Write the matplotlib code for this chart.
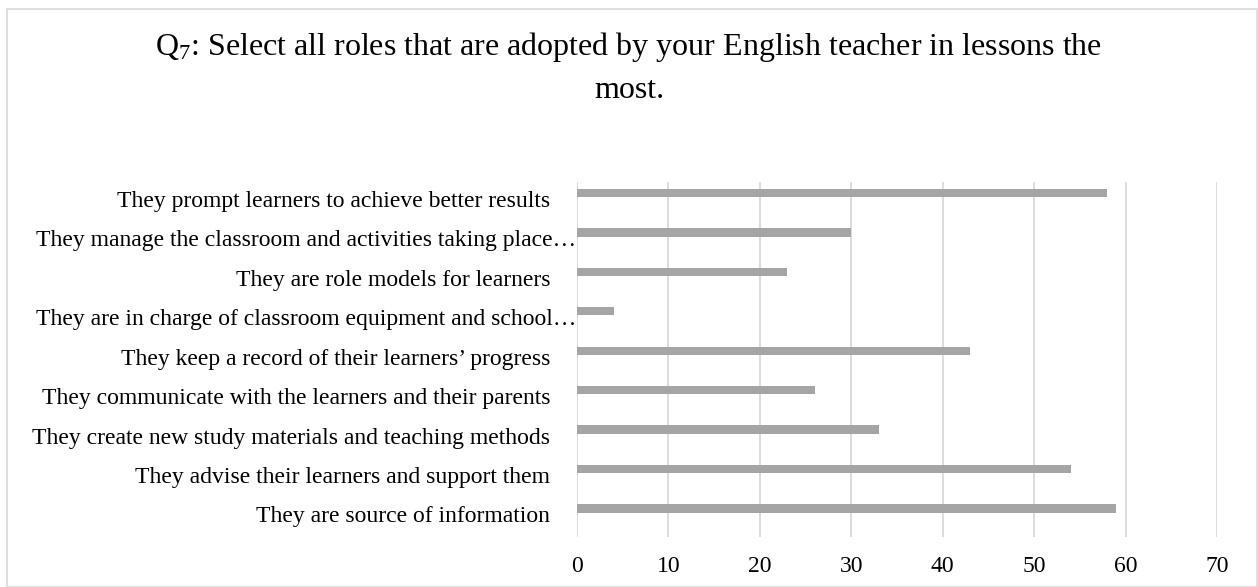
import matplotlib
matplotlib.use("Agg")
import matplotlib.pyplot as plt
import matplotlib.transforms as mtransforms
from matplotlib.patches import Rectangle

categories = [
    "They are source of information",
    "They advise their learners and support them",
    "They create new study materials and teaching methods",
    "They communicate with the learners and their parents",
    "They keep a record of their learners\u2019 progress",
    "They are in charge of classroom equipment and school\u2026",
    "They are role models for learners",
    "They manage the classroom and activities taking place\u2026",
    "They prompt learners to achieve better results",
]
values = [59, 54, 33, 26, 43, 4, 23, 30, 58]
xticks = [0, 10, 20, 30, 40, 50, 60, 70]
title_line1 = "Q$_7$: Select all roles that are adopted by your English teacher in lessons the"
title_line2 = "most."

plt.rcParams["font.family"] = ["Liberation Serif", "DejaVu Serif"]
plt.rcParams["mathtext.fontset"] = "custom"
plt.rcParams["mathtext.rm"] = "Liberation Serif"
plt.rcParams["mathtext.it"] = "Liberation Serif"

W, H = 1258, 587
dpi = 100
fig = plt.figure(figsize=(W / dpi, H / dpi), dpi=dpi)
fig.patch.set_facecolor("white")

# outer chart border
fig.add_artist(Rectangle((7 / W, 0), 1249.5 / W, (H - 9) / H, transform=fig.transFigure,
                         fill=False, edgecolor="#D9D9D9", linewidth=1.2))

left, right = 577 / W, 1217 / W
top, bottom = 1 - 181.7 / H, 1 - 536.7 / H
ax = fig.add_axes([left, bottom, right - left, top - bottom])

n = len(categories)
pos = list(range(n))
offset = 0.215
ax.barh([p + offset for p in pos], values, height=0.21, color="#A5A5A5", zorder=3)

ax.set_xlim(0, 70)
ax.set_ylim(-0.5, n - 0.5)
ax.set_xticks(xticks)
ax.set_xticklabels([str(t) for t in xticks], fontsize=17)
ax.tick_params(axis="x", length=0, pad=14)
ax.set_yticks([])
ax.grid(axis="x", color="#D9D9D9", linewidth=1.3, zorder=0)
for s in ax.spines.values():
    s.set_visible(False)

trans = mtransforms.blended_transform_factory(ax.transAxes, ax.transData)
for p, lab in zip(pos, categories):
    shift_px = -1 if lab.endswith("\u2026") else -27
    tr = trans + mtransforms.ScaledTranslation(shift_px / dpi, 0, fig.dpi_scale_trans)
    ax.text(0, p, lab, transform=tr, ha="right", va="center", fontsize=17)

fig.text(0.5, 1 - 47 / H, title_line1, ha="center", va="center", fontsize=23)
fig.text(0.5, 1 - 91 / H, title_line2, ha="center", va="center", fontsize=23)

fig.savefig("out.png", dpi=dpi, facecolor="white")
